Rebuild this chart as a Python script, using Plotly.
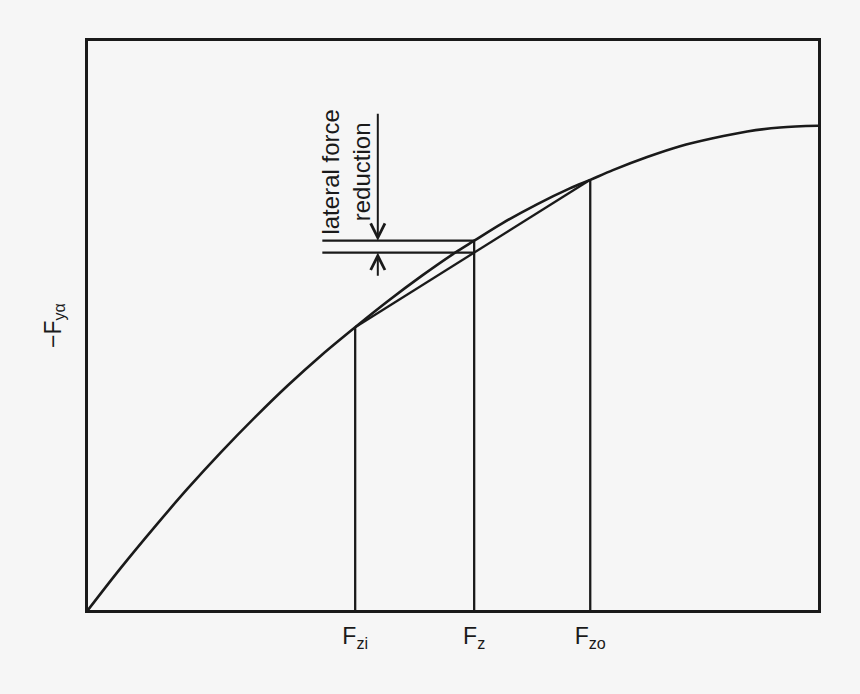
import numpy as np
import plotly.graph_objects as go

# lateral force curve (arbitrary units, 0-10 both axes)
fz_curve = [0, 0.45, 0.92, 1.37, 1.82, 2.29, 2.74, 3.19, 3.66, 4.11, 4.58, 5.03, 5.29,
            5.68, 6.15, 6.60, 6.88, 7.19, 7.66, 8.11, 8.56, 9.03, 9.48, 10.0]
fy_curve = [0, 0.74, 1.47, 2.14, 2.77, 3.39, 3.95, 4.47, 4.97, 5.43, 5.88, 6.28, 6.49,
            6.80, 7.13, 7.41, 7.56, 7.73, 7.96, 8.15, 8.29, 8.41, 8.48, 8.51]

# wheel loads: inner, static, outer
tick_vals = [3.66, 5.29, 6.88]
tick_text = ["F<sub>zi</sub>", "F<sub>z</sub>", "F<sub>zo</sub>"]

bracket_left = 3.21
arrow_x = 3.97
arrow_top = 8.75
arrow_bottom = 5.85
label_x = 3.53
label_y = 7.70

FONT = "Liberation Sans, Arial, sans-serif"
INK = "#1a1a1a"
BG = "#f6f6f6"

fzi, fz, fzo = tick_vals
y_fzi, y_fz, y_fzo = np.interp(tick_vals, fz_curve, fy_curve)
y_chord = np.interp(fz, [fzi, fzo], [y_fzi, y_fzo])

fig = go.Figure()

fig.add_trace(go.Scatter(x=fz_curve, y=fy_curve, mode="lines",
                         line=dict(color=INK, width=2.6, shape="spline", smoothing=1)))

# verticals at the three loads
vx, vy = [], []
for xv, yv in zip(tick_vals, [y_fzi, y_fz, y_fzo]):
    vx += [xv, xv, None]
    vy += [0, yv, None]
fig.add_trace(go.Scatter(x=vx, y=vy, mode="lines", line=dict(color=INK, width=2.3)))

# chord between inner and outer wheel
fig.add_trace(go.Scatter(x=[fzi, fzo], y=[y_fzi, y_fzo], mode="lines",
                         line=dict(color=INK, width=2.3)))

# bracket lines marking the reduction
fig.add_trace(go.Scatter(x=[bracket_left, fz, None, bracket_left, fz],
                         y=[y_fz, y_fz, None, y_chord, y_chord], mode="lines",
                         line=dict(color=INK, width=2.3)))

arrow_style = dict(showarrow=True, arrowhead=5, arrowsize=1.4, arrowwidth=2,
                   arrowcolor=INK, standoff=0, text="", axref="x", ayref="y")
fig.add_annotation(x=arrow_x, y=y_fz, ax=arrow_x, ay=arrow_top, **arrow_style)
fig.add_annotation(x=arrow_x, y=y_chord, ax=arrow_x, ay=arrow_bottom, **arrow_style)

fig.add_annotation(x=label_x, y=label_y, text="lateral force<br>reduction", textangle=-90,
                   showarrow=False, font=dict(family=FONT, size=24, color=INK))

fig.update_xaxes(range=[0, 10], tickvals=tick_vals, ticktext=tick_text, ticks="",
                 showgrid=False, zeroline=False, showline=True, mirror=True,
                 linecolor=INK, linewidth=2.6, ticklabelstandoff=4,
                 tickfont=dict(family=FONT, size=23, color=INK))
fig.update_yaxes(range=[0, 10], showticklabels=False, ticks="",
                 showgrid=False, zeroline=False, showline=True, mirror=True,
                 linecolor=INK, linewidth=2.6,
                 title=dict(text="\u2212F<sub>y\u03b1</sub>", standoff=18,
                            font=dict(family=FONT, size=23, color=INK)))

fig.update_layout(width=860, height=694, showlegend=False,
                  paper_bgcolor=BG, plot_bgcolor=BG,
                  margin=dict(l=88, r=42, t=41, b=84))

fig.write_html("out.html", config={"displayModeBar": False},
               post_script="document.body.style.margin='0';document.body.style.background='#f6f6f6';")
